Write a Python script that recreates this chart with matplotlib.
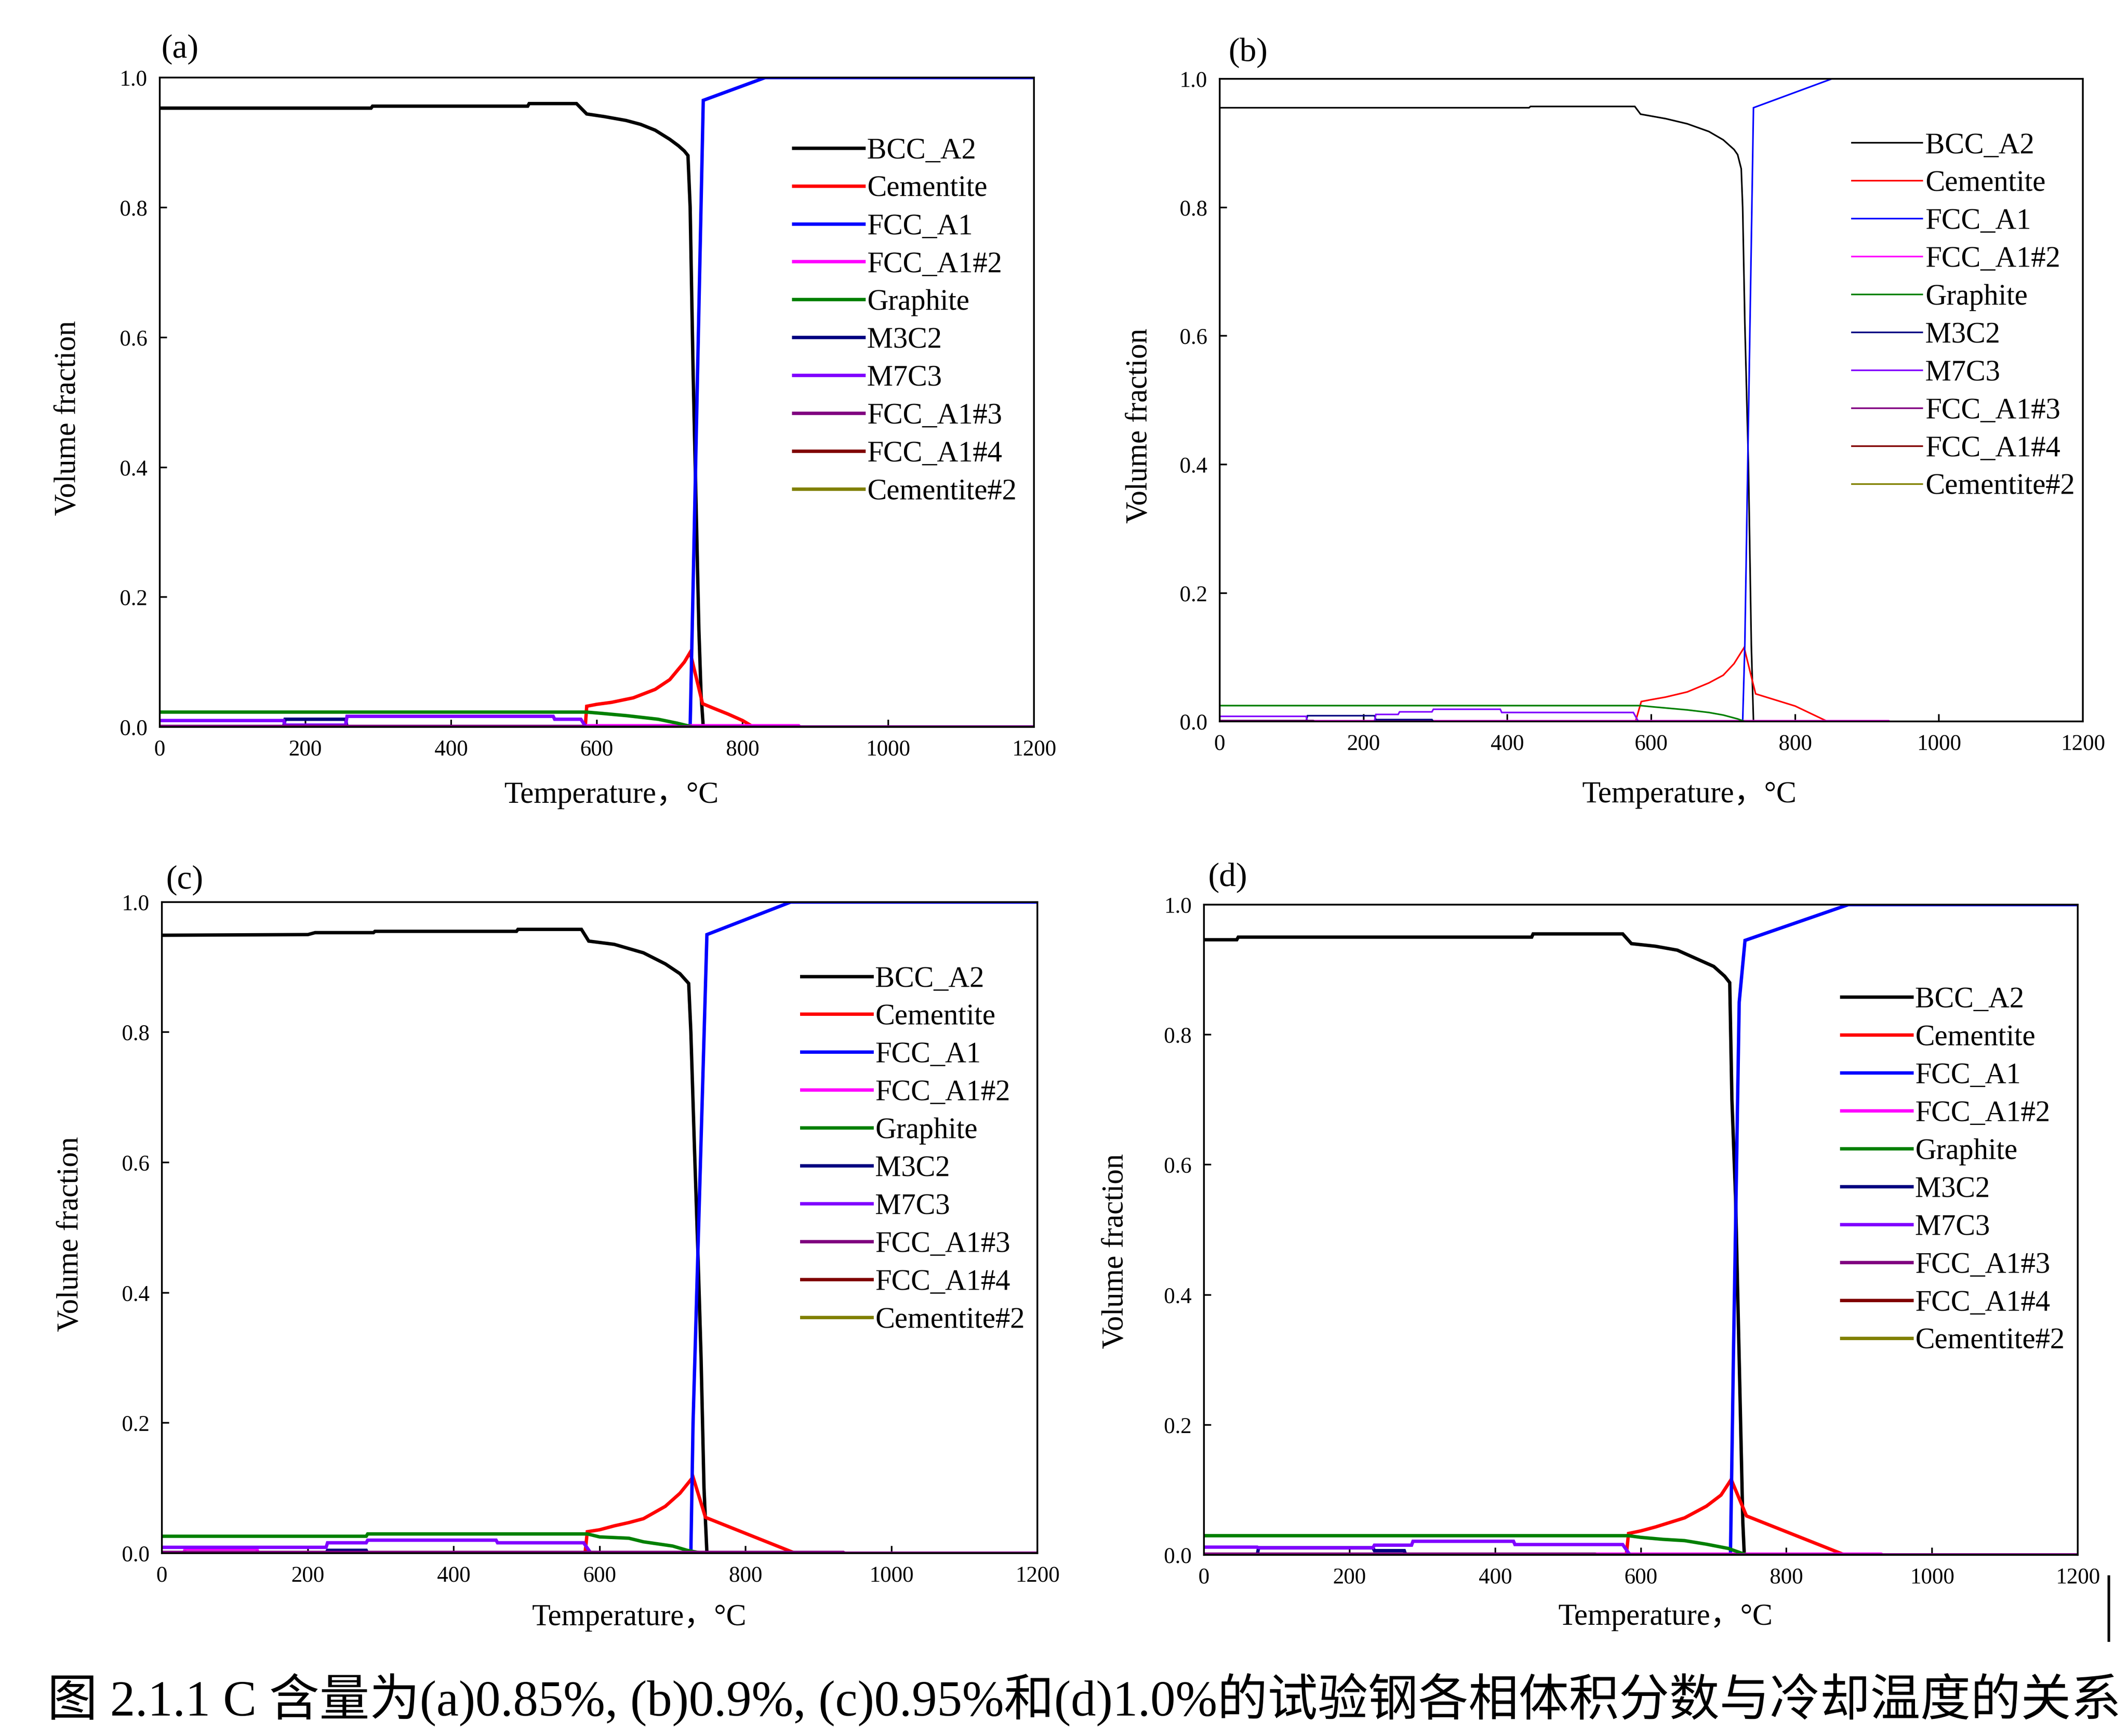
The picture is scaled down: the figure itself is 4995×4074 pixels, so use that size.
import matplotlib
matplotlib.use("Agg")
import matplotlib.pyplot as plt
from matplotlib.lines import Line2D

plt.rcParams['font.family'] = ['Liberation Serif', 'Noto Sans CJK SC', 'DejaVu Sans']
plt.rcParams['mathtext.fontset'] = 'stix'

phases = ["BCC_A2", "Cementite", "FCC_A1", "FCC_A1#2", "Graphite",
          "M3C2", "M7C3", "FCC_A1#3", "FCC_A1#4", "Cementite#2"]
colors = ["#000000", "#ff0000", "#0000ff", "#ff00ff", "#008000",
          "#000080", "#8000ff", "#800080", "#800000", "#808000"]

# ---- (a) 0.85% C ----
a_bcc_t = [0, 290, 292, 505, 507, 572, 586, 610, 640, 660, 680, 700, 712, 720, 725, 728, 732, 737, 740, 743, 746, 1200]
a_bcc = [0.953, 0.953, 0.956, 0.956, 0.960, 0.960, 0.944, 0.940, 0.934, 0.928, 0.919, 0.905, 0.895, 0.887, 0.880, 0.80, 0.55, 0.30, 0.15, 0.05, 0.0, 0.0]
a_cem_t = [0, 584, 586, 600, 620, 650, 680, 700, 720, 728, 745, 760, 780, 800, 815, 1200]
a_cem = [0, 0, 0.032, 0.035, 0.038, 0.045, 0.058, 0.073, 0.100, 0.115, 0.036, 0.029, 0.020, 0.010, 0, 0]
a_fcc_t = [0, 728, 746, 831, 1200]
a_fcc = [0, 0, 0.965, 1.0, 1.0]
a_fcc2_t = [0, 580, 582, 877, 879, 1200]
a_fcc2 = [0, 0, 0.002, 0.002, 0, 0]
a_gra_t = [0, 586, 607, 641, 684, 710, 732, 1200]
a_gra = [0.023, 0.023, 0.021, 0.0175, 0.012, 0.006, 0, 0]
a_m3c2_t = [0, 170, 172, 255, 257, 1200]
a_m3c2 = [0, 0, 0.012, 0.012, 0, 0]
a_m7c3_t = [0, 170, 172, 255, 257, 540, 542, 578, 585, 1200]
a_m7c3 = [0.010, 0.010, 0.003, 0.003, 0.0165, 0.0165, 0.012, 0.012, 0, 0]
a_fcc3_t = [0, 580, 582, 1200]
a_fcc3 = [0.001, 0.001, 0, 0]

# ---- (b) 0.9% C ----
b_bcc_t = [0, 430, 432, 577, 585, 600, 620, 650, 680, 700, 715, 720, 725, 727, 730, 735, 739, 742, 1200]
b_bcc = [0.955, 0.955, 0.957, 0.957, 0.945, 0.942, 0.938, 0.930, 0.918, 0.905, 0.890, 0.882, 0.86, 0.80, 0.62, 0.40, 0.12, 0.0, 0.0]
b_cem_t = [0, 578, 586, 600, 620, 650, 680, 700, 715, 729, 745, 800, 845, 1200]
b_cem = [0, 0, 0.031, 0.034, 0.038, 0.046, 0.060, 0.072, 0.090, 0.115, 0.043, 0.024, 0, 0]
b_fcc_t = [0, 727, 730, 742, 851, 1200]
b_fcc = [0, 0, 0.12, 0.955, 1.0, 1.0]
b_fcc2_t = [0, 930, 932, 1200]
b_fcc2 = [0.0012, 0.0012, 0, 0]
b_gra_t = [0, 585, 600, 650, 680, 700, 720, 730, 1200]
b_gra = [0.0247, 0.0247, 0.023, 0.018, 0.014, 0.010, 0.004, 0, 0]
b_m3c2_t = [0, 120, 122, 215, 217, 295, 297, 1200]
b_m3c2 = [0, 0, 0.009, 0.009, 0.003, 0.003, 0, 0]
b_m7c3_t = [0, 120, 122, 215, 217, 248, 250, 295, 297, 390, 392, 575, 582, 1200]
b_m7c3 = [0.008, 0.008, 0.0, 0.0, 0.011, 0.011, 0.015, 0.015, 0.019, 0.019, 0.014, 0.014, 0, 0]
b_fcc3_t = [0, 130, 132, 1200]
b_fcc3 = [0.0015, 0.0015, 0, 0]

# ---- (c) 0.95% C ----
c_bcc_t = [0, 200, 210, 290, 292, 486, 488, 575, 585, 620, 660, 690, 710, 722, 725, 730, 735, 739, 743, 747, 1200]
c_bcc = [0.949, 0.950, 0.953, 0.953, 0.955, 0.955, 0.958, 0.958, 0.940, 0.935, 0.922, 0.905, 0.890, 0.875, 0.80, 0.62, 0.45, 0.30, 0.10, 0.0, 0.0]
c_cem_t = [0, 580, 583, 600, 620, 640, 660, 690, 710, 728, 745, 868, 1200]
c_cem = [0, 0, 0.033, 0.036, 0.042, 0.047, 0.053, 0.072, 0.092, 0.117, 0.055, 0, 0]
c_fcc_t = [0, 725, 728, 747, 862, 1200]
c_fcc = [0, 0, 0.2, 0.95, 1.0, 1.0]
c_fcc2_t = [0, 30, 32, 130, 132, 1200]
c_fcc2 = [0, 0, 0.0066, 0.0066, 0, 0]
c_gra_t = [0, 280, 282, 583, 600, 640, 660, 700, 720, 740, 1200]
c_gra = [0.026, 0.026, 0.0296, 0.0296, 0.025, 0.023, 0.0175, 0.011, 0.0044, 0, 0]
c_m3c2_t = [0, 225, 227, 280, 282, 1200]
c_m3c2 = [0, 0, 0.0044, 0.0044, 0, 0]
c_m7c3_t = [0, 225, 227, 280, 282, 458, 460, 578, 588, 1200]
c_m7c3 = [0.009, 0.009, 0.016, 0.016, 0.020, 0.020, 0.016, 0.016, 0, 0]
c_fcc3_t = [0, 934, 936, 1200]
c_fcc3 = [0.0012, 0.0012, 0, 0]

# ---- (d) 1.0% C ----
d_bcc_t = [0, 45, 47, 450, 452, 575, 587, 620, 650, 680, 700, 715, 722, 725, 730, 735, 740, 742, 1200]
d_bcc = [0.946, 0.946, 0.950, 0.950, 0.955, 0.955, 0.940, 0.936, 0.930, 0.915, 0.905, 0.890, 0.880, 0.70, 0.55, 0.30, 0.05, 0.0, 0.0]
d_cem_t = [0, 580, 583, 600, 620, 660, 690, 710, 724, 745, 880, 1200]
d_cem = [0, 0, 0.033, 0.037, 0.043, 0.057, 0.075, 0.092, 0.116, 0.060, 0, 0]
d_fcc_t = [0, 723, 727, 735, 743, 885, 1200]
d_fcc = [0, 0, 0.3, 0.85, 0.945, 1.0, 1.0]
d_fcc2_t = [0, 537, 539, 930, 932, 1200]
d_fcc2 = [0, 0, 0.0012, 0.0012, 0, 0]
d_gra_t = [0, 583, 600, 630, 660, 690, 720, 740, 745, 1200]
d_gra = [0.0296, 0.0296, 0.027, 0.024, 0.022, 0.0165, 0.010, 0.002, 0, 0]
d_m3c2_t = [0, 73, 75, 232, 234, 275, 277, 1200]
d_m3c2 = [0, 0, 0.011, 0.011, 0.0066, 0.0066, 0, 0]
d_m7c3_t = [0, 73, 75, 232, 234, 285, 287, 425, 427, 575, 585, 1200]
d_m7c3 = [0.012, 0.012, 0.011, 0.011, 0.015, 0.015, 0.021, 0.021, 0.016, 0.016, 0, 0]
d_fcc3_t = [0, 537, 539, 1200]
d_fcc3 = [0.0012, 0.0012, 0, 0]

caption = "图 2.1.1 C 含量为(a)0.85%, (b)0.9%, (c)0.95%和(d)1.0%的试验钢各相体积分数与冷却温度的关系"

panels = [
    dict(tag="(a)", rect=[0.0751, 0.5812, 0.4108, 0.3741], lw=1.9,
         series={"BCC_A2": (a_bcc_t, a_bcc), "Cementite": (a_cem_t, a_cem), "FCC_A1": (a_fcc_t, a_fcc),
                 "FCC_A1#2": (a_fcc2_t, a_fcc2), "Graphite": (a_gra_t, a_gra), "M3C2": (a_m3c2_t, a_m3c2),
                 "M7C3": (a_m7c3_t, a_m7c3), "FCC_A1#3": (a_fcc3_t, a_fcc3)},
         leg=(0.725, 0.624), ylab=(-0.105, 0.476), xlab=(0.517, -0.105), tagpos=(0.023, 1.043)),
    dict(tag="(b)", rect=[0.5732, 0.5844, 0.4056, 0.3702], lw=0.9,
         series={"BCC_A2": (b_bcc_t, b_bcc), "Cementite": (b_cem_t, b_cem), "FCC_A1": (b_fcc_t, b_fcc),
                 "FCC_A1#2": (b_fcc2_t, b_fcc2), "Graphite": (b_gra_t, b_gra), "M3C2": (b_m3c2_t, b_m3c2),
                 "M7C3": (b_m7c3_t, b_m7c3), "FCC_A1#3": (b_fcc3_t, b_fcc3)},
         leg=(0.7325, 0.630), ylab=(-0.093, 0.46), xlab=(0.544, -0.114), tagpos=(0.033, 1.04)),
    dict(tag="(c)", rect=[0.0761, 0.1053, 0.4114, 0.3751], lw=1.9,
         series={"BCC_A2": (c_bcc_t, c_bcc), "Cementite": (c_cem_t, c_cem), "FCC_A1": (c_fcc_t, c_fcc),
                 "FCC_A1#2": (c_fcc2_t, c_fcc2), "Graphite": (c_gra_t, c_gra), "M3C2": (c_m3c2_t, c_m3c2),
                 "M7C3": (c_m7c3_t, c_m7c3), "FCC_A1#3": (c_fcc3_t, c_fcc3)},
         leg=(0.731, 0.619), ylab=(-0.104, 0.49), xlab=(0.545, -0.099), tagpos=(0.026, 1.033)),
    dict(tag="(d)", rect=[0.5658, 0.1043, 0.4106, 0.3746], lw=1.9,
         series={"BCC_A2": (d_bcc_t, d_bcc), "Cementite": (d_cem_t, d_cem), "FCC_A1": (d_fcc_t, d_fcc),
                 "FCC_A1#2": (d_fcc2_t, d_fcc2), "Graphite": (d_gra_t, d_gra), "M3C2": (d_m3c2_t, d_m3c2),
                 "M7C3": (d_m7c3_t, d_m7c3), "FCC_A1#3": (d_fcc3_t, d_fcc3)},
         leg=(0.73, 0.5905), ylab=(-0.101, 0.467), xlab=(0.528, -0.096), tagpos=(0.027, 1.041)),
]

fig = plt.figure(figsize=(4995 / 300, 4074 / 300), dpi=300)

for p in panels:
    ax = fig.add_axes(p["rect"])
    for name, col in zip(phases, colors):
        if name in p["series"]:
            t, v = p["series"][name]
        else:
            t, v = [], []
        ax.plot(t, v, color=col, lw=p["lw"], label=name, solid_joinstyle="miter")
    ax.set_xlim(0, 1200)
    ax.set_ylim(0, 1.0)
    ax.set_xticks(range(0, 1201, 200))
    ax.set_yticks([0, 0.2, 0.4, 0.6, 0.8, 1.0])
    ax.set_yticklabels(["0.0", "0.2", "0.4", "0.6", "0.8", "1.0"])
    ax.tick_params(direction="in", length=4, width=0.9, labelsize=12.5, pad=7)
    for s in ax.spines.values():
        s.set_linewidth(1.0)
    ax.text(p["ylab"][0], p["ylab"][1], "Volume fraction", transform=ax.transAxes,
            rotation=90, ha="center", va="center", fontsize=17)
    ax.text(p["xlab"][0], p["xlab"][1], "Temperature，°C", transform=ax.transAxes,
            ha="center", va="center", fontsize=17)
    ax.text(p["tagpos"][0], p["tagpos"][1], p["tag"], transform=ax.transAxes,
            ha="center", va="center", fontsize=19)
    ax.legend(loc="center left", bbox_to_anchor=p["leg"], frameon=False,
              fontsize=16.5, handlelength=2.4, handletextpad=0.1,
              labelspacing=0.37, borderpad=0, borderaxespad=0)

fig.text(0.0223, 0.021, caption, ha="left", va="center", fontsize=28.3,
         family=['Liberation Serif', 'Noto Sans CJK SC'])
fig.add_artist(Line2D([0.991, 0.991], [0.055, 0.0918], color="black", lw=1.5))

fig.savefig("out.png", dpi=300)
